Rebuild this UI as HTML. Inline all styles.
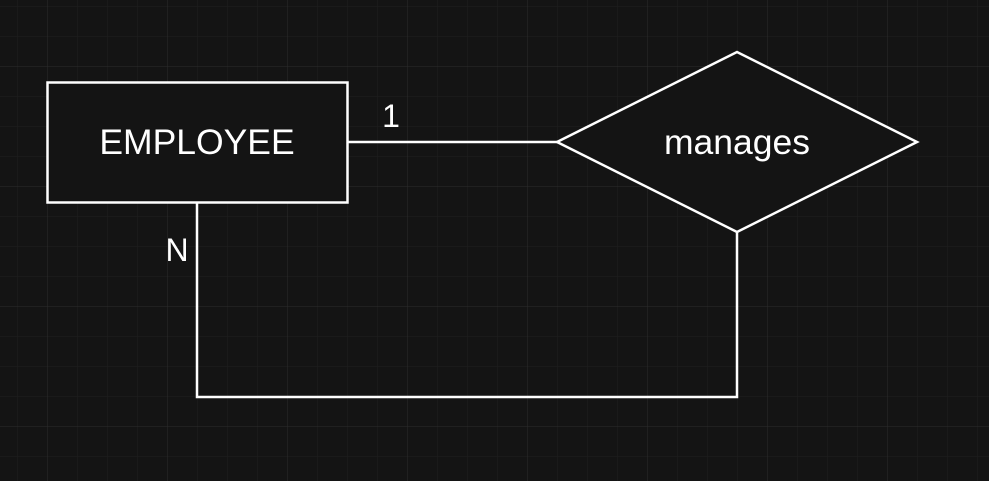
<!DOCTYPE html>
<html><head><style>body{margin:0;background:#141414;}svg{display:block}</style></head><body>
<svg width="989" height="481" xmlns="http://www.w3.org/2000/svg">
<defs>
<pattern id="mi" width="30" height="30" patternUnits="userSpaceOnUse" x="17" y="6"><path d="M0 0H30M0 0V30" stroke="#1f1f1f" stroke-width="1" fill="none"/></pattern>
<pattern id="ma" width="120" height="120" patternUnits="userSpaceOnUse" x="47" y="66"><path d="M0 0H120M0 0V120" stroke="#2c2c2c" stroke-width="1" fill="none"/></pattern>
</defs>
<rect width="989" height="481" fill="#141414"/>
<rect width="989" height="481" fill="url(#mi)"/>
<rect width="989" height="481" fill="url(#ma)"/>
<g stroke="#fff" stroke-width="2.5" fill="#141414">
<rect x="47.5" y="82.5" width="300" height="120"/>
<polygon points="557,142 737,52 917,142 737,232"/>
<path d="M347 142H557M197 202V397H737V232" fill="none"/>
</g>
<g fill="#fff" font-family="Liberation Sans, sans-serif" font-size="35.5" text-anchor="middle">
<text x="197" y="154">EMPLOYEE</text>
<text x="737" y="154">manages</text>
</g>
<g fill="#fff" font-family="Liberation Sans, sans-serif" font-size="32" text-anchor="middle">
<text x="391" y="127">1</text>
<text x="177" y="261">N</text>
</g>
</svg>
</body></html>
